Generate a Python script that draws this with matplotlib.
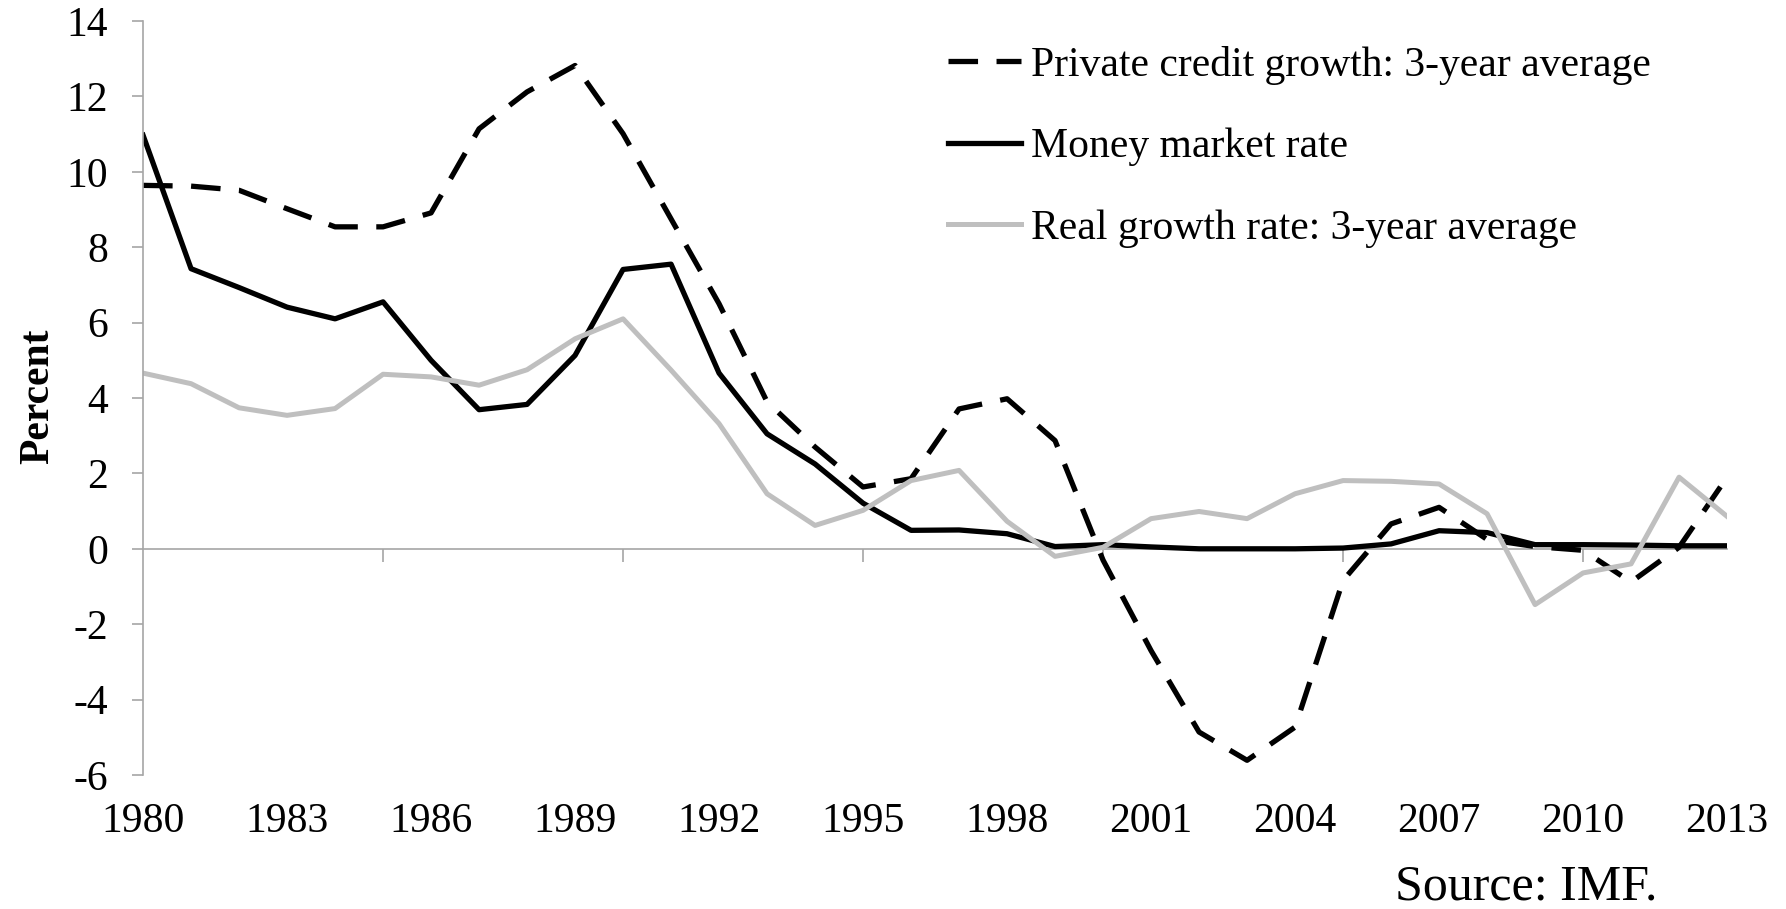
import matplotlib
matplotlib.use("Agg")
import matplotlib.pyplot as plt

# Data (percent)
years = list(range(1980, 2014))
private_credit = [9.64, 9.62, 9.51, 9.02, 8.54, 8.54, 8.91, 11.14, 12.12, 12.82,
                  11.01, 8.75, 6.50, 3.90, 2.70, 1.64, 1.86, 3.71, 3.98, 2.87,
                  -0.30, -2.70, -4.86, -5.61, -4.73, -0.84, 0.66, 1.10, 0.25, 0.06,
                  -0.04, -0.88, 0.04, 1.90]
money_market = [10.97, 7.43, 6.93, 6.41, 6.10, 6.55, 5.00, 3.69, 3.83, 5.13,
                7.41, 7.55, 4.66, 3.05, 2.25, 1.21, 0.49, 0.50, 0.40, 0.06,
                0.11, 0.05, 0.00, 0.00, 0.00, 0.02, 0.13, 0.48, 0.43, 0.11,
                0.11, 0.10, 0.08, 0.08]
real_growth = [4.66, 4.38, 3.74, 3.54, 3.72, 4.63, 4.56, 4.34, 4.75, 5.57,
               6.10, 4.74, 3.32, 1.46, 0.62, 1.02, 1.81, 2.08, 0.73, -0.20,
               0.04, 0.80, 0.99, 0.80, 1.46, 1.81, 1.79, 1.72, 0.93, -1.48,
               -0.64, -0.40, 1.90, 0.86]
label_years = years[::3]
tick_years = [1985, 1990, 1995, 2000, 2005, 2010]
y_ticks = list(range(-6, 15, 2))

plt.rcParams['font.family'] = ['Liberation Serif', 'DejaVu Serif']
plt.rcParams['axes.unicode_minus'] = False
axis_grey = '#A6A6A6'

fig = plt.figure(figsize=(17.86, 9.09), dpi=100)
ax = fig.add_axes([0.0801, 0.1474, 0.8869, 0.8295])

ax.plot(years, private_credit, color='black', lw=3.8, dashes=(5.6, 3.5),
        dash_capstyle='butt', label='Private credit growth: 3-year average')
ax.plot(years, money_market, color='black', lw=3.8,
        label='Money market rate')
ax.plot(years, real_growth, color='#BFBFBF', lw=3.6,
        label='Real growth rate: 3-year average')

ax.set_xlim(1980, 2013)
ax.set_ylim(-6, 14)

# spines: only the left one, grey
for s in ['top', 'right', 'bottom']:
    ax.spines[s].set_visible(False)
ax.spines['left'].set_color(axis_grey)
ax.spines['left'].set_linewidth(1.2)

ax.set_yticks(y_ticks)
ax.tick_params(axis='y', length=8, width=1.2, color=axis_grey, labelsize=30, pad=17)
ax.set_xticks(label_years)
ax.tick_params(axis='x', length=0, labelsize=30, pad=20)

# horizontal axis line at zero with its own ticks
sec = ax.secondary_xaxis(0.3)
sec.spines['bottom'].set_color(axis_grey)
sec.spines['bottom'].set_linewidth(1.2)
sec.set_xticks(tick_years)
sec.set_xticklabels([''] * len(tick_years))
sec.tick_params(axis='x', length=9, width=1.2, color=axis_grey, direction='out')

ax.set_ylabel('Percent', fontsize=30, fontweight='bold')
ax.yaxis.set_label_coords(-0.054, 0.502)

leg = ax.legend(loc='upper left', bbox_to_anchor=(948 / 1786, 1 - 46 / 909),
                bbox_transform=fig.transFigure, frameon=False, fontsize=30,
                handlelength=1.75, handletextpad=0.25, labelspacing=1.03,
                borderpad=0, borderaxespad=0)

fig.text(1657 / 1786, 9 / 909, 'Source: IMF.', fontsize=36, ha='right', va='baseline')

fig.savefig('out.png', dpi=100)
